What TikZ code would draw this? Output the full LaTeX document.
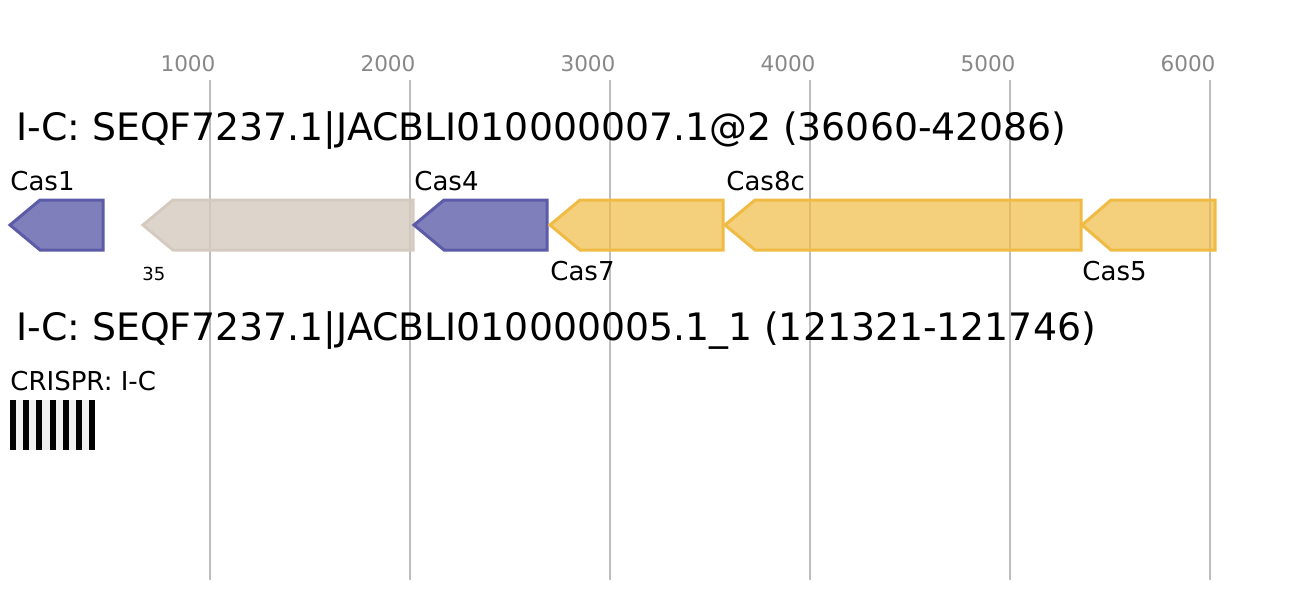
\documentclass[tikz,border=0pt]{standalone}
\usepackage{fontspec}
\setmainfont{DejaVu Sans}

\definecolor{casblue}{HTML}{5B5BA8}
\definecolor{casyellow}{HTML}{F0BB44}
\definecolor{casgray}{HTML}{D5CABF}
\definecolor{gridgray}{HTML}{BEBEBE}
\definecolor{ticktext}{HTML}{888888}
\definecolor{spacergray}{HTML}{EFEFEF}

\tikzset{
  gridline/.style={gridgray, line width=1pt},
  ticklabel/.style={ticktext, anchor=base, inner sep=0, font=\fontsize{10.8}{12}\selectfont},
  locustitle/.style={anchor=base west, inner sep=0, font=\fontsize{18.9}{22}\selectfont},
  genelabel/.style={anchor=base west, inner sep=0, font=\fontsize{13}{15}\selectfont},
  smalllabel/.style={anchor=base west, inner sep=0, font=\fontsize{9}{10}\selectfont},
  bluegene/.style={draw=casblue, fill=casblue, fill opacity=0.78, line width=1.5pt, line join=miter},
  yellowgene/.style={draw=casyellow, fill=casyellow, fill opacity=0.7, line width=1.5pt, line join=miter},
  graygene/.style={draw=casgray, fill=casgray, fill opacity=0.8, line width=1.5pt, line join=miter},
}

\begin{document}
\begin{tikzpicture}[x=0.5pt, y=-0.5pt]
  \useasboundingbox (0,0) rectangle (1305,600);

  % scale
  \foreach \x/\t in {210/1000, 410/2000, 610/3000, 810/4000, 1010/5000, 1210/6000} {
    \draw[gridline] (\x,80) -- (\x,580);
    \node[ticklabel] (tick\t) at (\x-22,71) {\t};
  }

  % first locus
  \node[locustitle] (locusone) at (16,140) {I-C: SEQF7237.1|JACBLI010000007.1@2 (36060-42086)};

  \draw[bluegene] (10,225) -- (40,200) -- (103,200) -- (103,250) -- (40,250) -- cycle;
  \draw[graygene] (143,225) -- (173,200) -- (413,200) -- (413,250) -- (173,250) -- cycle;
  \draw[bluegene] (414,225) -- (444,200) -- (547,200) -- (547,250) -- (444,250) -- cycle;
  \draw[yellowgene] (550,225) -- (580,200) -- (723,200) -- (723,250) -- (580,250) -- cycle;
  \draw[yellowgene] (725,225) -- (755,200) -- (1081,200) -- (1081,250) -- (755,250) -- cycle;
  \draw[yellowgene] (1082,225) -- (1111,200) -- (1215,200) -- (1215,250) -- (1111,250) -- cycle;

  \node[genelabel] (cas1) at (10,190) {Cas1};
  \node[genelabel] (cas4) at (414,190) {Cas4};
  \node[genelabel] (cas8c) at (726,190) {Cas8c};
  \node[genelabel] (cas7) at (550,280) {Cas7};
  \node[genelabel] (cas5) at (1082,280) {Cas5};
  \node[smalllabel] (other) at (142,280) {35};

  % second locus
  \node[locustitle] (locustwo) at (16,340) {I-C: SEQF7237.1|JACBLI010000005.1\_1 (121321-121746)};
  \node[genelabel] (crisprlbl) at (10,390) {CRISPR: I-C};

  \fill[spacergray] (10,400) rectangle (95,450);
  \foreach \i in {0,...,6}
    \fill[black] (10+13.17*\i,400) rectangle +(6,50);
\end{tikzpicture}
\end{document}
